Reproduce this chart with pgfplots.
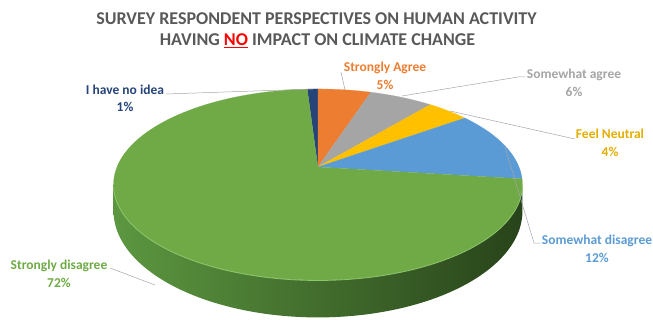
\documentclass[border=0pt]{standalone}
\usepackage{pgfplots}
\pgfplotsset{compat=1.18}
\usepackage{fontspec}
\setmainfont{Carlito}
\definecolor{cNoIdea}{HTML}{264478}
\definecolor{cSAgree}{HTML}{ED7D31}
\definecolor{cAgree}{HTML}{A5A5A5}
\definecolor{cNeutral}{HTML}{FFC000}
\definecolor{cDisagree}{HTML}{5B9BD5}
\definecolor{cSDisagree}{HTML}{6FAA46}
\definecolor{wallL}{HTML}{5C9740}
\definecolor{wallM}{HTML}{4A7C30}
\definecolor{wallR}{HTML}{28431A}
\definecolor{rim}{HTML}{8CC66A}
\definecolor{titlegray}{HTML}{595959}
\definecolor{leader}{HTML}{A6A6A6}
\begin{document}
\begin{tikzpicture}
% survey shares (percent), clockwise from just left of 12 o'clock
\def\vA{1}  % I have no idea
\def\vB{5}  % Strongly Agree
\def\vC{6}  % Somewhat agree
\def\vD{4}  % Feel Neutral
\def\vE{12} % Somewhat disagree
\def\vF{72} % Strongly disagree
\pgfmathsetmacro\aA{90+3.6*\vA}
\pgfmathsetmacro\aB{\aA-3.6*\vA}
\pgfmathsetmacro\aC{\aB-3.6*\vB}
\pgfmathsetmacro\aD{\aC-3.6*\vC}
\pgfmathsetmacro\aE{\aD-3.6*\vD}
\pgfmathsetmacro\aF{\aE-3.6*\vE}
\pgfmathsetmacro\aG{\aF-3.6*\vF}
\begin{axis}[width=653pt,height=326pt,scale only axis,
  xmin=0,xmax=653,ymin=0,ymax=326,y dir=reverse,hide axis,clip=false,
  declare function={
    sc(\t)=1/(1+0.183*sin(\t));
    px(\t)=318+201*cos(\t)*sc(\t);
    py(\t)=167-92.3*sin(\t)*sc(\t);
    th(\u)=(\u<=1)*(190.5+159*\u)+(\u>1)*(190.5+159*(2-\u));
    dp(\u)=(\u>1)*25*sc(th(\u))^2;
  }]
% side wall
\addplot[draw=none,left color=wallL,middle color=wallM,right color=wallR,
  domain=0:2,samples=201,variable=\u]
  ({px(th(\u))},{py(th(\u))+dp(\u)});
% slices
\addplot[fill=cNoIdea,draw=cNoIdea,line width=0.2pt,domain=\aB:\aA,samples=10,variable=\t]
  ({px(\t)},{py(\t)}) -- (axis cs:318,167);
\addplot[fill=cSAgree,draw=cSAgree,line width=0.2pt,domain=\aC:\aB,samples=20,variable=\t]
  ({px(\t)},{py(\t)}) -- (axis cs:318,167);
\addplot[fill=cAgree,draw=cAgree,line width=0.2pt,domain=\aD:\aC,samples=20,variable=\t]
  ({px(\t)},{py(\t)}) -- (axis cs:318,167);
\addplot[fill=cNeutral,draw=cNeutral,line width=0.2pt,domain=\aE:\aD,samples=20,variable=\t]
  ({px(\t)},{py(\t)}) -- (axis cs:318,167);
\addplot[fill=cDisagree,draw=cDisagree,line width=0.2pt,domain=\aF:\aE,samples=30,variable=\t]
  ({px(\t)},{py(\t)}) -- (axis cs:318,167);
\addplot[fill=cSDisagree,draw=cSDisagree,line width=0.2pt,domain=\aG:\aF,samples=150,variable=\t]
  ({px(\t)},{py(\t)}) -- (axis cs:318,167);
% rim highlight
\addplot[rim,line width=0.8pt,domain=192:348,samples=100,variable=\t]
  ({px(\t)},{py(\t)+0.5});
% leader lines
\addplot[leader,line width=0.5pt] coordinates {(166,94) (313,89)};
\addplot[leader,line width=0.5pt] coordinates {(341,72) (345,90)};
\addplot[leader,line width=0.5pt] coordinates {(402,96) (518,77) (525,77)};
\addplot[leader,line width=0.5pt] coordinates {(450,111) (575,139)};
\addplot[leader,line width=0.5pt] coordinates {(505,147) (534,243) (541,243)};
\addplot[leader,line width=0.5pt] coordinates {(110,268) (155,285)};
% labels
\begin{scope}[every node/.style={font=\bfseries\fontsize{13.5}{17.5}\selectfont,align=center}]
\node[text=cNoIdea] at (axis cs:125,98.5) {I have no idea\\1\%};
\node[text=cSAgree] at (axis cs:385,76) {Strongly Agree\\5\%};
\node[text=cAgree] at (axis cs:574,83) {Somewhat agree\\6\%};
\node[text=cNeutral!90!black] at (axis cs:610,143) {Feel Neutral\\4\%};
\node[text=cDisagree] at (axis cs:597,249) {Somewhat disagree\\12\%};
\node[text=cSDisagree] at (axis cs:59,274) {Strongly disagree\\72\%};
\end{scope}
% title
\node[font=\bfseries\fontsize{18}{21}\selectfont,text=titlegray] at (axis cs:316.5,19)
  {SURVEY RESPONDENT PERSPECTIVES ON HUMAN ACTIVITY};
\node[font=\bfseries\fontsize{18}{21}\selectfont,text=titlegray] at (axis cs:317.5,40.5)
  {HAVING \textcolor{red}{\underline{NO}} IMPACT ON CLIMATE CHANGE};
\end{axis}
\pgfresetboundingbox
\path[use as bounding box] (current axis.south west) rectangle (current axis.north east);
\end{tikzpicture}
\end{document}
